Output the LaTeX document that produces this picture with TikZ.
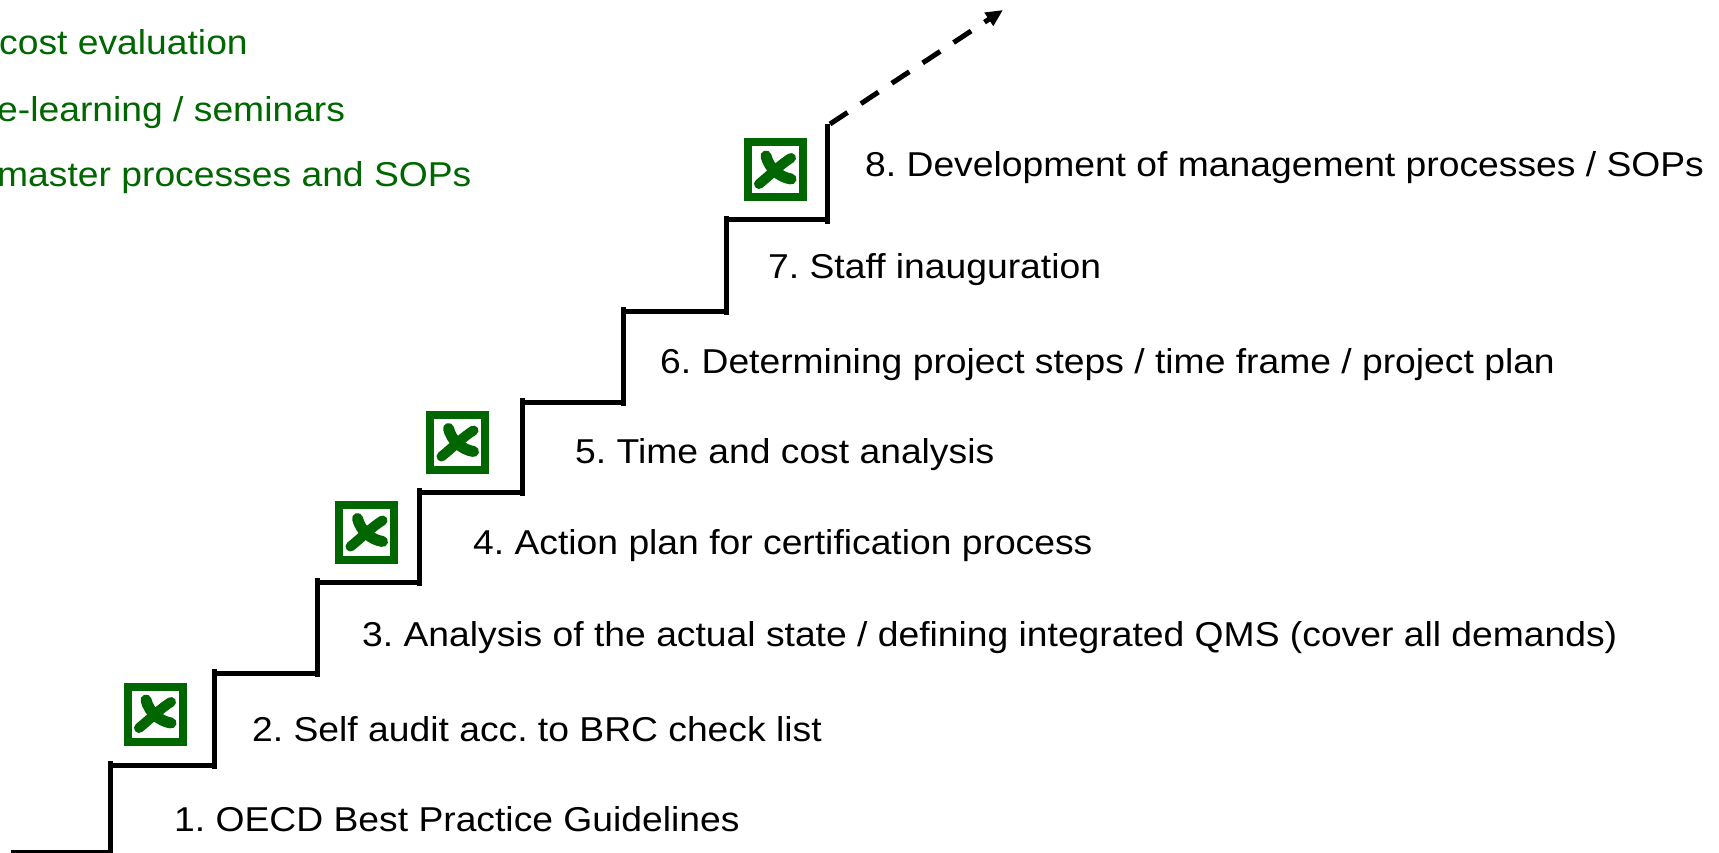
\documentclass[tikz,border=0pt]{standalone}
\usepackage{fontspec}
\setmainfont{Liberation Sans}[FakeStretch=1.08]
\usetikzlibrary{arrows.meta}
\definecolor{boxgreen}{RGB}{0,102,0}
\definecolor{notegreen}{RGB}{0,102,0}
\begin{document}
\frenchspacing
\begin{tikzpicture}[x=1pt,y=-1pt,
  stair/.style={line width=5pt, line cap=butt},
  lbl/.style={anchor=base west, inner sep=0pt, font=\fontsize{34.5}{40}\selectfont},
  note/.style={lbl, text=notegreen},
  xbox/.pic={
    \draw[boxgreen, line width=8pt, fill=white] (-27.5,-27.5) rectangle (27.5,27.5);
    % brush-like cross made of two thick curved strokes
    \draw[boxgreen, line width=11pt, line cap=round]
      (-9,-14) .. controls (-6,-2) and (4,7) .. (16,9);
    \draw[boxgreen, line width=10pt, line cap=round]
      (16,-12) .. controls (6,-6) and (-6,6) .. (-16,14);
  }]
\useasboundingbox (0,0) rectangle (1719,853);

% notes at the top left
\node[note] (n1) at (-1,55) {cost evaluation};
\node[note] (n2) at (-3,122) {e-learning / seminars};
\node[note] (n3) at (-3,187) {master processes and SOPs};

% staircase: floor, risers and treads
\draw[stair] (11,852) -- (107.5,852);
\foreach \x/\ylo/\yhi in {110/857/765, 214/765/673, 317/673/582, 419/582/492,
                          522/492/402, 623/402/311, 726/311/220, 827/220/128}
  \draw[stair] (\x,\ylo+4) -- (\x,\yhi-4);
\foreach \xa/\xb/\y in {110/214/765, 214/317/673, 317/419/582, 419/522/492,
                        522/623/402, 623/726/311, 726/827/220}
  \draw[stair] (\xa,\y) -- (\xb-2.5,\y);

% dashed arrow leaving the top step
\coordinate (topend) at (830,124);
\coordinate (tip) at (1003,10);
\draw[line width=5pt, dash pattern=on 21pt off 16pt,
      -{Triangle[length=17pt,width=15pt]}] (topend) -- (tip);

% ticked-off boxes
\pic at (155,714) {xbox};
\pic at (366.5,532.5) {xbox};
\pic at (457.5,442.5) {xbox};
\pic at (775,170) {xbox};

% step labels
\node[lbl] (s1) at (174,831) {1. OECD Best Practice Guidelines};
\node[lbl] (s2) at (252,741) {2. Self audit acc. to BRC check list};
\node[lbl] (s3) at (362,646) {3. Analysis of the actual state / defining integrated QMS (cover all demands)};
\node[lbl] (s4) at (473,554) {4. Action plan for certification process};
\node[lbl] (s5) at (575,463) {5. Time and cost analysis};
\node[lbl] (s6) at (660,373) {6. Determining project steps / time frame / project plan};
\node[lbl] (s7) at (768,279) {7. Staff inauguration};
\node[lbl] (s8) at (865,177) {8. Development of management processes / SOPs};
\end{tikzpicture}
\end{document}
